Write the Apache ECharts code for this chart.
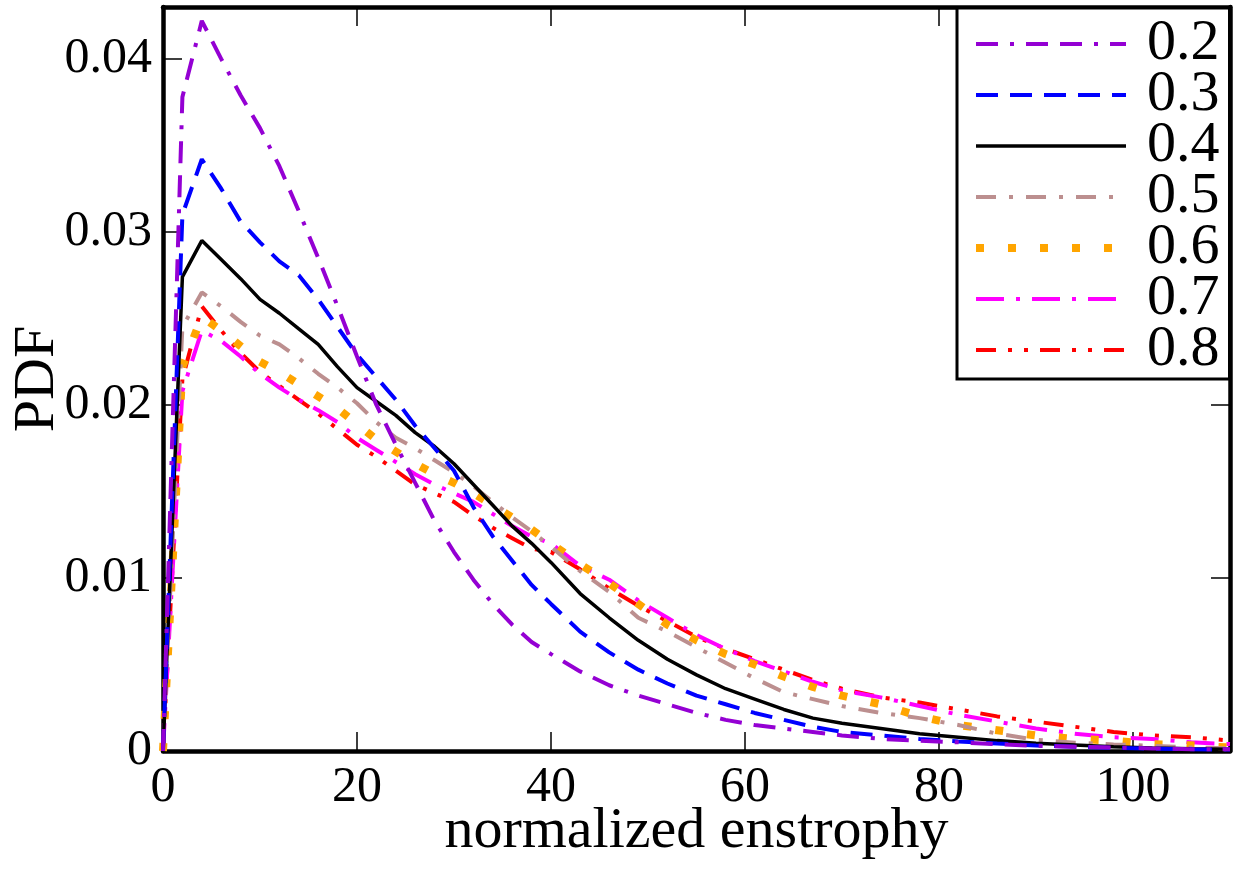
<!DOCTYPE html>
<html>
<head>
<meta charset="utf-8">
<script src="https://cdn.jsdelivr.net/npm/echarts@6/dist/echarts.min.js"></script>
<style>
  html, body { margin: 0; padding: 0; background: #fff; }
  #root { width: 1240px; height: 869px; }
</style>
</head>
<body>
<div id="root"></div>
<script>
// x positions (normalized enstrophy) shared by all curves
const xValues = [0, 1, 2, 4, 6, 8, 10, 12, 14, 16, 18, 20, 22, 24, 26, 28, 30, 32, 34, 36, 38, 40,
  43, 46, 49, 52, 55, 58, 61, 64, 67, 70, 74, 78, 82, 86, 90, 94, 98, 102, 106, 110]

const seriesNames = ['0.2', '0.3', '0.4', '0.5', '0.6', '0.7', '0.8']

const pdf02 = [0, 0.019, 0.0378, 0.0422, 0.0400, 0.0379, 0.0360, 0.0338, 0.0312, 0.0285, 0.0257, 0.0228,
  0.0200, 0.0177, 0.0155, 0.0133, 0.0115, 0.0099, 0.0085, 0.0073, 0.0063, 0.0056,
  0.0046, 0.0038, 0.0032, 0.0027, 0.0022, 0.0018, 0.0015, 0.0013, 0.0011, 0.0009, 0.0007, 0.0006,
  0.0005, 0.0004, 0.0003, 0.00025, 0.0002, 0.00015, 0.0001, 0.0001]
const pdf03 = [0, 0.0155, 0.031, 0.0342, 0.0325, 0.0306, 0.0294, 0.0283, 0.0275, 0.0261, 0.0245, 0.0229,
  0.0216, 0.0203, 0.0188, 0.0175, 0.0162, 0.0141, 0.0124, 0.0110, 0.0096, 0.0085,
  0.0069, 0.0057, 0.0047, 0.0039, 0.0032, 0.0027, 0.0022, 0.0018, 0.0014, 0.0011, 0.0009, 0.0007,
  0.00055, 0.00043, 0.00032, 0.00024, 0.00018, 0.00013, 0.0001, 0.00008]
const pdf04 = [0, 0.0137, 0.0274, 0.0295, 0.0284, 0.0273, 0.0261, 0.0253, 0.0244, 0.0235, 0.0222, 0.0210,
  0.0202, 0.0194, 0.0184, 0.0176, 0.0166, 0.0154, 0.0142, 0.0130, 0.0120, 0.0109,
  0.0091, 0.0077, 0.0064, 0.0053, 0.0044, 0.0036, 0.0030, 0.0024, 0.0019, 0.0016, 0.0013, 0.0010,
  0.0008, 0.0006, 0.00045, 0.00035, 0.00025, 0.00018, 0.00013, 0.0001]
const pdf05 = [0, 0.0123, 0.0245, 0.0265, 0.0257, 0.0248, 0.0240, 0.0235, 0.0227, 0.0218, 0.0210, 0.0201,
  0.0190, 0.0181, 0.0175, 0.0168, 0.0161, 0.0153, 0.0144, 0.0135, 0.0127, 0.0118,
  0.0104, 0.0092, 0.0077, 0.0069, 0.0060, 0.0051, 0.0042, 0.0034, 0.0030, 0.0026, 0.0022, 0.0019,
  0.0015, 0.0010, 0.00065, 0.00048, 0.00038, 0.0003, 0.0002, 0.00015]
const pdf06 = [0, 0.011, 0.0222, 0.0251, 0.0243, 0.0234, 0.0225, 0.0219, 0.0212, 0.0205, 0.0198, 0.0189,
  0.0180, 0.0173, 0.0166, 0.0160, 0.0155, 0.0149, 0.0142, 0.0135, 0.0128, 0.0120,
  0.0108, 0.0097, 0.0085, 0.0073, 0.0064, 0.0056, 0.0050, 0.0043, 0.0037, 0.0032, 0.0027, 0.0020,
  0.0015, 0.0012, 0.0009, 0.0007, 0.0006, 0.0004, 0.00033, 0.0002]
const pdf07 = [0, 0.0105, 0.0208, 0.0243, 0.0237, 0.0228, 0.0218, 0.0210, 0.0203, 0.0197, 0.0190, 0.0181,
  0.0174, 0.0167, 0.0160, 0.0154, 0.0149, 0.0144, 0.0137, 0.0130, 0.0124, 0.0120,
  0.0107, 0.0099, 0.0087, 0.0077, 0.0067, 0.0059, 0.0052, 0.0046, 0.0040, 0.0035, 0.0031, 0.0026,
  0.0021, 0.0017, 0.0013, 0.0010, 0.0008, 0.0007, 0.0005, 0.0004]
const pdf08 = [0, 0.0108, 0.0215, 0.0257, 0.0243, 0.0230, 0.0219, 0.0211, 0.0203, 0.0195, 0.0186, 0.0177,
  0.0170, 0.0162, 0.0154, 0.0149, 0.0144, 0.0136, 0.0129, 0.0123, 0.0117, 0.0115,
  0.0105, 0.0094, 0.0084, 0.0075, 0.0066, 0.0059, 0.0053, 0.0047, 0.0041, 0.0036, 0.0031, 0.0028,
  0.0024, 0.0020, 0.0017, 0.0014, 0.0011, 0.0009, 0.0008, 0.0006]

const xTicks = [0, 20, 40, 60, 80, 100]
const yTicks = [0, 0.01, 0.02, 0.03, 0.04]

const allValues = [pdf02, pdf03, pdf04, pdf05, pdf06, pdf07, pdf08]
const styles = [
  { color: '#9400d3', width: 4, type: [22, 12, 4, 12, 22, 12] },
  { color: '#0000ff', width: 4, type: [22, 12] },
  { color: '#000000', width: 3.5, type: 'solid' },
  { color: '#bc8f8f', width: 4, type: [20, 13, 4, 13] },
  { color: '#ffa500', width: 8, type: [8, 24] },
  { color: '#ff00ff', width: 4, type: [28, 12, 4, 12] },
  { color: '#ff0000', width: 4, type: [20, 12, 4, 12, 4, 12] }
]

const font = 'Liberation Serif, Times New Roman, serif'

const buildSeries = () => allValues.map((vals, i) => ({
  name: seriesNames[i],
  type: 'line',
  xAxisIndex: 0,
  yAxisIndex: 0,
  symbol: 'none',
  smooth: false,
  animation: false,
  z: 10 - i,
  data: xValues.map((x, j) => [x, vals[j]]),
  itemStyle: { color: styles[i].color },
  lineStyle: { color: styles[i].color, width: styles[i].width, type: styles[i].type, cap: 'butt' }
}))

const axisCommon = {
  axisLine: { show: true, onZero: false, lineStyle: { color: '#000', width: 4.5 } },
  axisTick: { show: true, inside: true, length: 19, lineStyle: { color: '#000', width: 1.5 } },
  splitLine: { show: false },
  minorTick: { show: false }
}

const chart = echarts.init(document.getElementById('root'))
chart.setOption({
  backgroundColor: '#fff',
  animation: false,
  grid: { left: 163, right: 10, top: 7, bottom: 118, containLabel: false, outerBoundsMode: 'none' },
  legend: {
    orient: 'vertical',
    left: 957,
    top: 8,
    padding: [7, 10, 0, 15],
    itemWidth: 150,
    itemHeight: 14,
    itemGap: -7,
    backgroundColor: '#fff',
    borderColor: '#000',
    borderWidth: 3,
    borderRadius: 0,
    data: seriesNames,
    itemStyle: { opacity: 0 },
    lineStyle: { width: 'inherit' },
    textStyle: { fontFamily: font, fontSize: 58, color: '#000', padding: [10, 0, 0, 16] }
  },
  xAxis: [
    {
      ...axisCommon,
      type: 'value',
      position: 'bottom',
      min: 0,
      max: 110,
      interval: 20,
      name: 'normalized enstrophy',
      nameLocation: 'middle',
      nameMoveOverlap: false,
      nameGap: 52,
      nameTextStyle: { fontFamily: font, fontSize: 58, color: '#000' },
      axisLabel: {
        fontFamily: font, fontSize: 50, color: '#000', margin: 12,
        formatter: v => (xTicks.includes(v) ? String(v) : '')
      }
    },
    {
      ...axisCommon,
      type: 'value',
      position: 'top',
      min: 0,
      max: 110,
      interval: 20,
      axisLabel: { show: false }
    }
  ],
  yAxis: [
    {
      ...axisCommon,
      type: 'value',
      position: 'left',
      min: 0,
      max: 0.043,
      interval: 0.01,
      name: 'PDF',
      nameLocation: 'middle',
      nameMoveOverlap: false,
      nameGap: 96,
      nameTextStyle: { fontFamily: font, fontSize: 58, color: '#000' },
      axisLabel: {
        fontFamily: font, fontSize: 50, color: '#000', margin: 11,
        showMaxLabel: false,
        formatter: v => {
          const t = yTicks.find(k => Math.abs(k - v) < 1e-9)
          if (t === undefined) return ''
          return t === 0 ? '0' : t.toFixed(2)
        }
      }
    },
    {
      ...axisCommon,
      type: 'value',
      position: 'right',
      min: 0,
      max: 0.043,
      interval: 0.01,
      axisLabel: { show: false }
    }
  ],
  series: buildSeries()
})
</script>
</body>
</html>
